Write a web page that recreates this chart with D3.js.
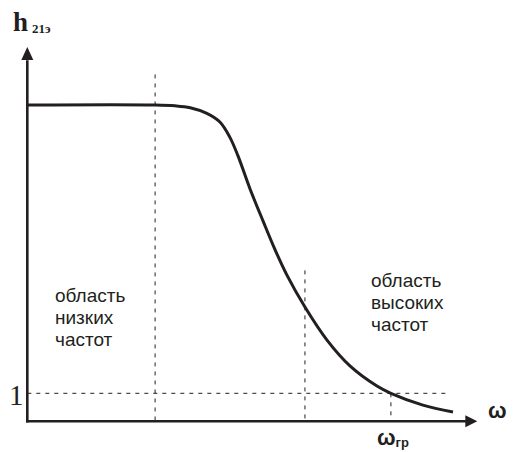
<!DOCTYPE html>
<html>
<head>
<meta charset="utf-8">
<script src="https://cdn.jsdelivr.net/npm/d3@7"></script>
<style>
body { margin: 0; background: #fff; }
svg text { fill: #231f20; }
</style>
</head>
<body>
<div id="chart"></div>
<script>
// frequency (arbitrary units) and current gain h21e
const freq = [0, 28.4, 32.8, 36.2, 39.9, 42.8, 45.0, 46.8, 49.5, 52.4, 55.0, 57.7, 61.7, 66.6, 71.7, 77.7, 80.8, 87.9, 94.6];
const gain = [11.3, 11.3, 11.27, 11.2, 11.0, 10.69, 10.15, 9.49, 8.3, 7.15, 6.15, 5.22, 4.08, 2.9, 1.98, 1.26, 1.0, 0.58, 0.33];

// dashed guides: x position and top value
const guideX = [28.4, 61.7, 80.8];
const guideTop = [12.39, 5.39, 1];
const unity = 1;
const unityEnd = 93.7;

const width = 517, height = 452;
const ink = '#231f20';

const svg = d3.select('#chart').append('svg')
  .attr('width', width).attr('height', height);

const x = d3.scaleLinear().domain([0, 100]).range([27.3, 477.3]);
const y = d3.scaleLinear().domain([0, 13.37]).range([421.3, 47]);

// dashed guides
const dash = svg.append('g')
  .attr('stroke', ink).attr('stroke-width', 1).attr('stroke-dasharray', '4,5').attr('fill', 'none');
guideX.forEach((g, i) => {
  dash.append('line')
    .attr('x1', x(g)).attr('x2', x(g))
    .attr('y1', y(guideTop[i])).attr('y2', y(0));
});
dash.append('line')
  .attr('x1', x(0)).attr('x2', x(unityEnd))
  .attr('y1', y(unity)).attr('y2', y(unity));

// axes with arrows
const axes = svg.append('g').attr('stroke', ink).attr('stroke-width', 2.6);
axes.append('line')
  .attr('x1', x(0)).attr('x2', x(0))
  .attr('y1', y(0) + 1.3).attr('y2', y(12.9));
axes.append('line')
  .attr('x1', x(0) - 1.3).attr('x2', x(97.6))
  .attr('y1', y(0)).attr('y2', y(0));
svg.append('path').attr('fill', ink)
  .attr('d', 'M' + x(0) + ',' + y(13.37) + 'L' + (x(0) - 6) + ',' + (y(13.37) + 13) + 'L' + (x(0) + 6) + ',' + (y(13.37) + 13) + 'Z');
svg.append('path').attr('fill', ink)
  .attr('d', 'M' + x(100) + ',' + y(0) + 'L' + (x(100) - 12) + ',' + (y(0) - 6) + 'L' + (x(100) - 12) + ',' + (y(0) + 6) + 'Z');

// response curve
svg.append('path')
  .datum(freq.map((f, i) => [f, gain[i]]))
  .attr('fill', 'none').attr('stroke', ink).attr('stroke-width', 3)
  .attr('d', d3.line().x(d => x(d[0])).y(d => y(d[1])).curve(d3.curveCatmullRom.alpha(0.5)));

// labels
const serif = '"Liberation Serif", "Times New Roman", serif';
const sans = '"Liberation Sans", Arial, sans-serif';

const hl = svg.append('text').attr('x', 13).attr('y', 31).attr('font-family', serif).attr('font-weight', 'bold');
hl.append('tspan').attr('font-size', 27).text('h');
hl.append('tspan').attr('font-size', 13).attr('dx', 4).attr('dy', 2).text('21э');

svg.append('text').attr('x', 9).attr('y', 405)
  .attr('font-family', serif).attr('font-size', 29).text('1');

svg.append('text').attr('x', 488).attr('y', 418)
  .attr('font-family', sans).attr('font-size', 22).attr('font-weight', 'bold').text('ω');

const wg = svg.append('text').attr('x', 377).attr('y', 445).attr('font-family', sans).attr('font-weight', 'bold');
wg.append('tspan').attr('font-size', 22).text('ω');
wg.append('tspan').attr('font-size', 13).attr('dy', 2).text('гр');

const block = (x0, y0, lines) => {
  const t = svg.append('text').attr('font-family', sans).attr('font-size', 19);
  lines.forEach((s, i) => t.append('tspan').attr('x', x0).attr('y', y0 + i * 21.8).text(s));
};
block(55, 302, ['область', 'низких', 'частот']);
block(371, 287, ['область', 'высоких', 'частот']);
</script>
</body>
</html>
